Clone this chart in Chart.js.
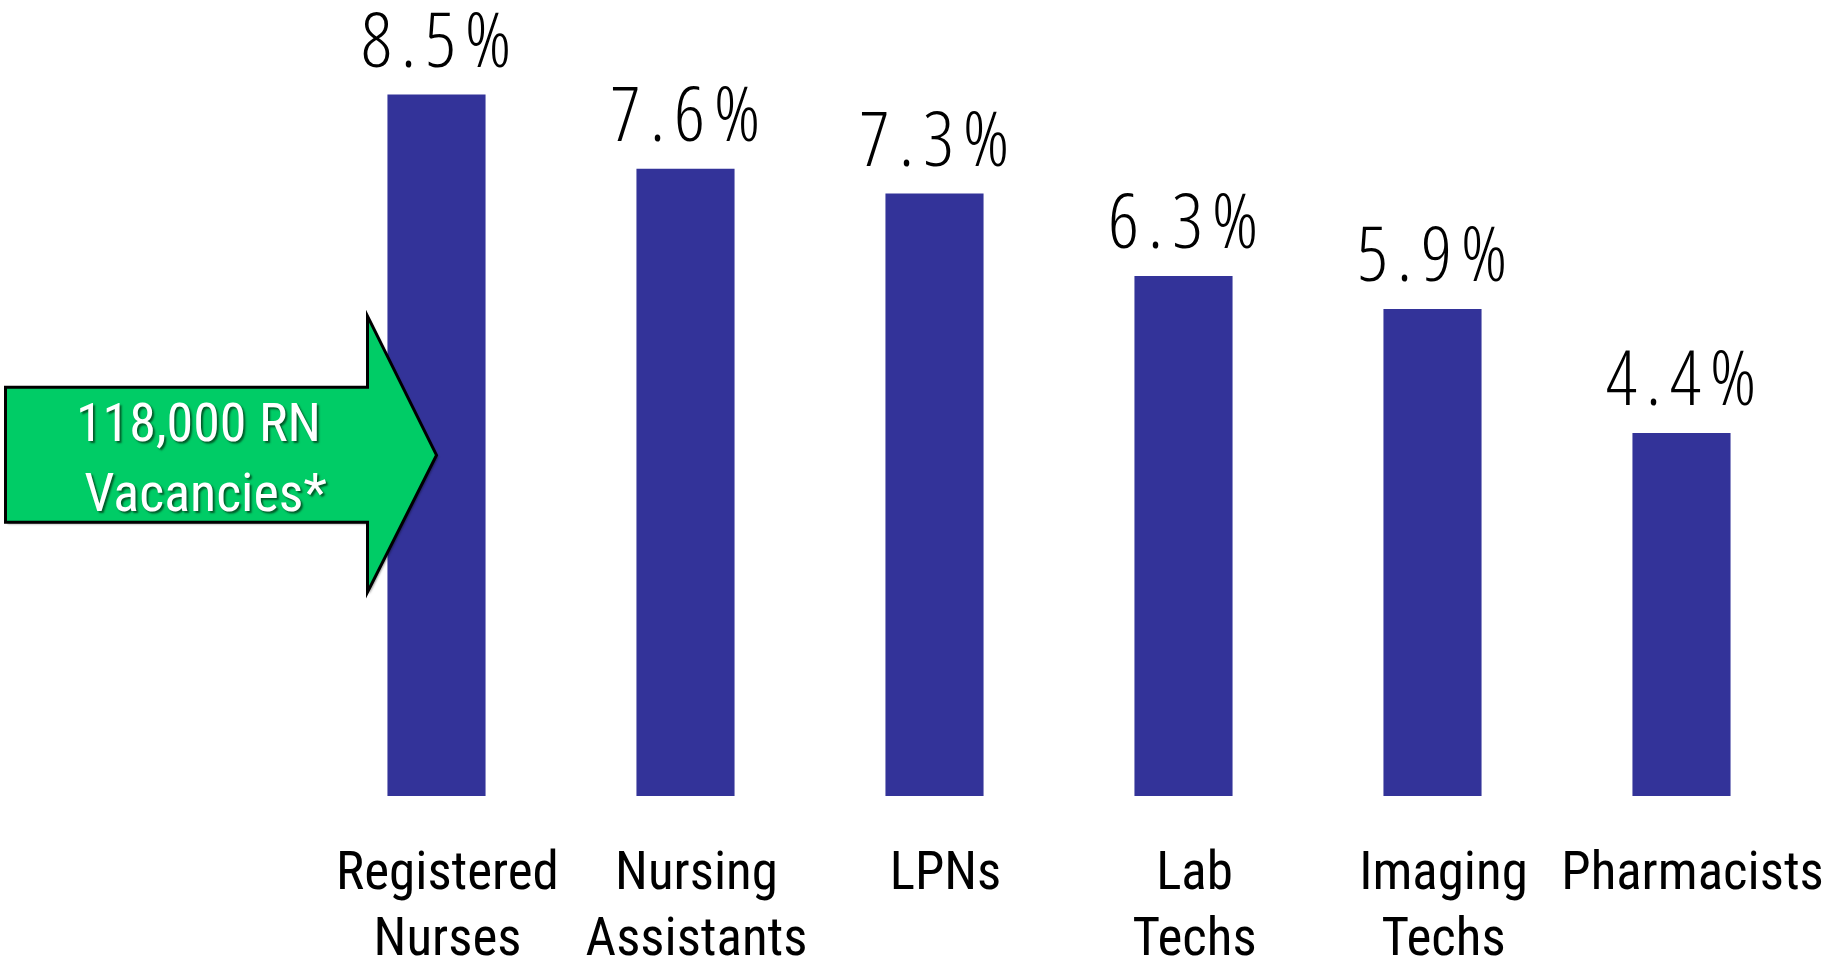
<!DOCTYPE html>
<html>
<head>
<meta charset="utf-8">
<script src="https://cdn.jsdelivr.net/npm/chart.js@4.4.1/dist/chart.umd.min.js"></script>
<style>
  html, body { margin: 0; padding: 0; background: #fff; }
  #wrap { width: 1828px; height: 963px; position: relative; }
</style>
</head>
<body>
<div id="wrap"><canvas id="shortage"></canvas></div>
<script>
  'use strict'

  const categories = [['Registered', 'Nurses'], ['Nursing', 'Assistants'], 'LPNs', ['Lab', 'Techs'], ['Imaging', 'Techs'], 'Pharmacists'];
  const vacancyRates = [8.5, 7.6, 7.3, 6.3, 5.9, 4.4];
  const calloutLines = ['118,000 RN', 'Vacancies*'];
  const calloutLevel = 4.13; // height (in %) where the arrow points at the RN bar

  const narrow = "'Roboto Condensed', 'Open Sans', sans-serif";
  const light = "'Open Sans', 'Roboto Condensed', sans-serif";

  // percent labels above each bar
  const valueLabels = {
    id: 'valueLabels',
    afterDatasetsDraw(chart) {
      const ctx = chart.ctx;
      const meta = chart.getDatasetMeta(0);
      ctx.save();
      ctx.font = 'condensed 300 76px ' + light;
      ctx.letterSpacing = '9px';
      ctx.fillStyle = '#000';
      ctx.textAlign = 'center';
      ctx.textBaseline = 'alphabetic';
      meta.data.forEach(function (bar, i) {
        ctx.fillText(vacancyRates[i].toFixed(1) + '%', bar.x + 4, bar.y - 28);
      });
      ctx.restore();
    }
  };

  // green callout arrow pointing at the first bar
  const rnArrow = {
    id: 'rnArrow',
    afterDraw(chart) {
      const ctx = chart.ctx;
      const x = chart.scales.x, y = chart.scales.y;
      const tipX = x.getPixelForValue(0);
      const tipY = y.getPixelForValue(calloutLevel);
      const headBase = tipX - 69;
      const tail = tipX - 431;

      ctx.save();
      ctx.beginPath();
      ctx.moveTo(tail, tipY - 68);
      ctx.lineTo(headBase, tipY - 68);
      ctx.lineTo(headBase, tipY - 139);
      ctx.lineTo(tipX, tipY);
      ctx.lineTo(headBase, tipY + 137);
      ctx.lineTo(headBase, tipY + 67);
      ctx.lineTo(tail, tipY + 67);
      ctx.closePath();
      ctx.shadowColor = 'rgba(0,0,0,0.35)';
      ctx.shadowOffsetX = 2;
      ctx.shadowOffsetY = 2;
      ctx.shadowBlur = 2;
      ctx.fillStyle = '#00cc66';
      ctx.fill();
      ctx.shadowColor = 'transparent';
      ctx.lineWidth = 3;
      ctx.lineJoin = 'miter';
      ctx.strokeStyle = '#000';
      ctx.stroke();

      ctx.font = '54px ' + narrow;
      ctx.textAlign = 'center';
      ctx.textBaseline = 'alphabetic';
      ctx.fillStyle = '#fff';
      ctx.shadowColor = 'rgba(0,70,30,0.85)';
      ctx.shadowOffsetX = 2;
      ctx.shadowOffsetY = 2;
      ctx.shadowBlur = 2;
      const cx = (tail + headBase) / 2 + 12;
      ctx.fillText(calloutLines[0], cx, tipY - 14);
      ctx.fillText(calloutLines[1], cx + 7, tipY + 56);
      ctx.restore();
    }
  };

  new Chart(document.getElementById('shortage'), {
    type: 'bar',
    data: {
      labels: categories,
      datasets: [{
        label: 'Vacancy rate',
        data: vacancyRates,
        backgroundColor: '#333399',
        borderWidth: 0,
        categoryPercentage: 1,
        barPercentage: 0.394
      }]
    },
    options: {
      responsive: true,
      maintainAspectRatio: false,
      animation: false,
      layout: {
        padding: { left: 312, right: 22, top: 12, bottom: 0 }
      },
      plugins: {
        legend: { display: false },
        tooltip: { enabled: false }
      },
      scales: {
        y: {
          display: false,
          min: 0,
          max: 9.5
        },
        x: {
          grid: { display: false, drawTicks: false },
          border: { display: false },
          afterFit: function (scale) {
            scale.height = 167;
            scale.paddingLeft = 0;
            scale.paddingRight = 0;
          },
          ticks: {
            autoSkip: false,
            maxRotation: 0,
            minRotation: 0,
            padding: 46,
            labelOffset: 11,
            color: '#000',
            font: { family: narrow, size: 53, lineHeight: 1.255 }
          }
        }
      }
    },
    plugins: [valueLabels, rnArrow]
  });
</script>
</body>
</html>
